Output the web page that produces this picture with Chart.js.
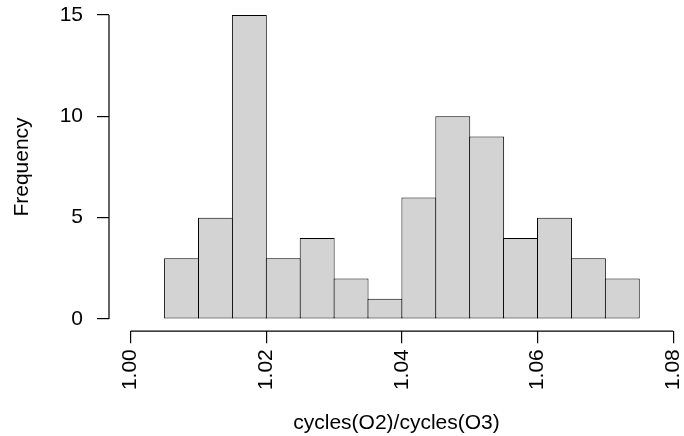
<!DOCTYPE html>
<html>
<head>
<meta charset="utf-8">
<script src="https://cdn.jsdelivr.net/npm/chart.js@4"></script>
<style>
  html, body { margin: 0; padding: 0; background: #fff; }
  #histChart { display: block; }
</style>
</head>
<body>
<canvas id="histChart" width="684" height="436"></canvas>
<script>
// histogram bins (break points) and counts
const breaks = [1.005, 1.010, 1.015, 1.020, 1.025, 1.030, 1.035, 1.040, 1.045, 1.050, 1.055, 1.060, 1.065, 1.070, 1.075];
const counts = [3, 5, 15, 3, 4, 2, 1, 6, 10, 9, 4, 5, 3, 2];

const xTicks = [1.00, 1.02, 1.04, 1.06, 1.08];
const yTicks = [0, 5, 10, 15];

const xTitle = "cycles(O2)/cycles(O3)";
const yTitle = "Frequency";

const fontFamily = "'Liberation Sans', Arial, Helvetica, sans-serif";
const fontSize = 21;

const points = counts.map((c, i) => ({ x: (breaks[i] + breaks[i + 1]) / 2, y: c }));

// R style axis lines, only from first to last tick
const axisLines = {
    id: "axisLines",
    afterDraw(chart) {
        const ctx = chart.ctx;
        const xs = chart.scales.x;
        const ys = chart.scales.y;
        const area = chart.chartArea;
        ctx.save();
        ctx.strokeStyle = "#000";
        ctx.lineWidth = 1.2;
        ctx.beginPath();
        ctx.moveTo(xs.getPixelForValue(xTicks[0]), area.bottom);
        ctx.lineTo(xs.getPixelForValue(xTicks[xTicks.length - 1]), area.bottom);
        ctx.moveTo(area.left, ys.getPixelForValue(yTicks[0]));
        ctx.lineTo(area.left, ys.getPixelForValue(yTicks[yTicks.length - 1]));
        ctx.stroke();
        ctx.restore();
    }
};

new Chart(document.getElementById("histChart"), {
    type: "bar",
    data: {
        datasets: [{
            data: points,
            backgroundColor: "#d3d3d3",
            borderColor: "#000",
            borderWidth: 1,
            borderSkipped: false,
            inflateAmount: 0,
            // slight overlap so neighbouring borders share one line, like R's rect()
            barPercentage: 1.03,
            categoryPercentage: 1
        }]
    },
    options: {
        responsive: false,
        animation: false,
        devicePixelRatio: 1,
        layout: { padding: { top: 2.8, left: 0, right: 0, bottom: 0 } },
        plugins: {
            legend: { display: false },
            tooltip: { enabled: false }
        },
        scales: {
            x: {
                type: "linear",
                min: 0.9968,
                max: 1.0816,
                offset: false,
                border: { display: false },
                grid: {
                    offset: false,
                    drawOnChartArea: false,
                    drawTicks: true,
                    tickLength: 12,
                    color: "#000",
                    lineWidth: 1.2
                },
                ticks: {
                    minRotation: 90,
                    maxRotation: 90,
                    padding: 6,
                    color: "#000",
                    font: { family: fontFamily, size: fontSize },
                    callback: v => v.toFixed(2)
                },
                afterBuildTicks: s => { s.ticks = xTicks.map(v => ({ value: v })); },
                afterFit: s => { s.height = 104.8; s.paddingLeft = 0; s.paddingRight = 0; },
                title: {
                    display: true,
                    text: xTitle,
                    color: "#000",
                    font: { family: fontFamily, size: fontSize },
                    padding: { top: 0, bottom: 0.5 }
                }
            },
            y: {
                min: -0.6,
                max: 15.6,
                border: { display: false },
                grid: {
                    drawOnChartArea: false,
                    drawTicks: true,
                    tickLength: 12,
                    color: "#000",
                    lineWidth: 1.2
                },
                ticks: {
                    padding: 14,
                    color: "#000",
                    font: { family: fontFamily, size: fontSize },
                    callback: v => String(v)
                },
                afterBuildTicks: s => { s.ticks = yTicks.map(v => ({ value: v })); },
                afterFit: s => { s.width = 109; s.paddingTop = 0; s.paddingBottom = 0; },
                title: {
                    display: true,
                    text: yTitle,
                    color: "#000",
                    font: { family: fontFamily, size: fontSize },
                    padding: { top: 9.4, bottom: 0 }
                }
            }
        }
    },
    plugins: [axisLines]
});
</script>
</body>
</html>
